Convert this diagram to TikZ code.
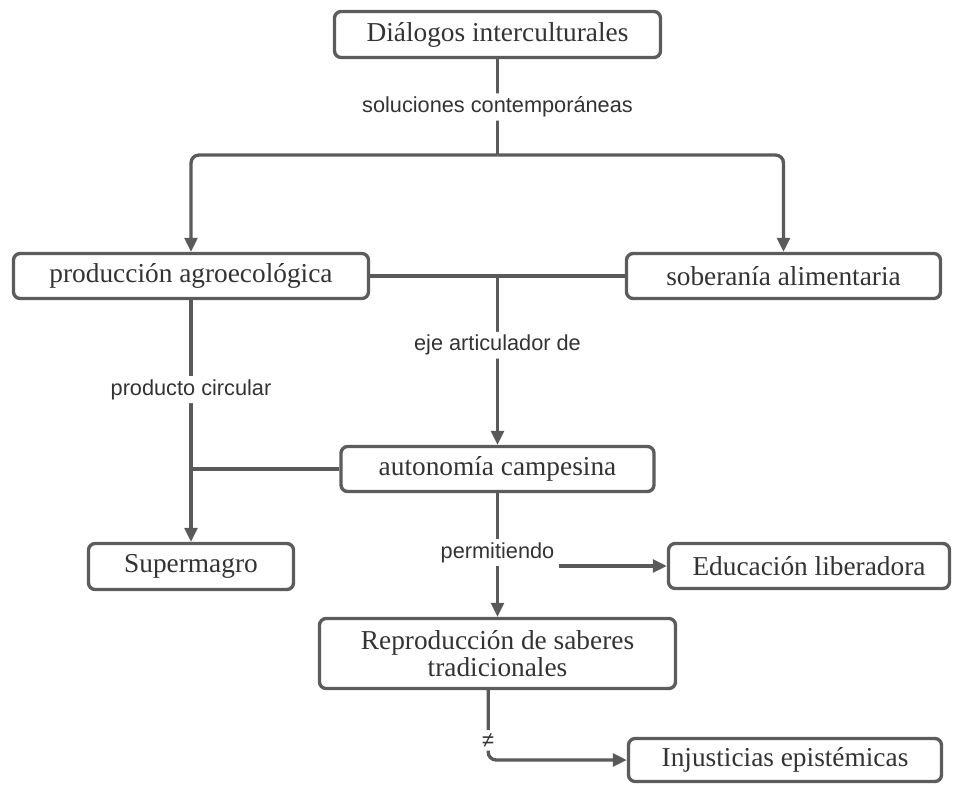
\documentclass[tikz,border=0pt]{standalone}
\usepackage{fontspec}
\setmainfont{Liberation Serif}
\newfontfamily\linkfont{Liberation Sans}
\usetikzlibrary{arrows.meta}
\definecolor{boxgray}{HTML}{5C5C5C}
\definecolor{linegray}{HTML}{5A5A5A}
\definecolor{textgray}{HTML}{333333}
\begin{document}
\begin{tikzpicture}[x=0.75pt, y=-0.75pt,
    concept/.style={rectangle, rounded corners=5pt, draw=boxgray, fill=white,
        minimum height=33.75pt, align=center, text=textgray, inner sep=2pt,
        font=\fontsize{20.5}{20}\selectfont, line width=2.5pt},
    linking/.style={fill=white, text=textgray, inner sep=2.5pt,
        font=\linkfont\fontsize{16.3}{18}\selectfont},
    post/.style={line width=2.5pt, draw=linegray, rounded corners=6pt},
    tip/.style={-{Triangle[length=10.5pt, width=9.5pt]}},
]
  \useasboundingbox (0,0) rectangle (953,786);
  % concept map: dialogos interculturales
  \node[concept, minimum width=244.5pt, minimum height=34.5pt] (c_dialogos) at (497.5, 34.5) {Diálogos interculturales};
  \node[concept, minimum width=266.25pt] (c_produccion) at (191, 276) {producción agroecológica};
  \node[concept, minimum width=235.5pt] (c_soberania) at (783.5, 276) {soberanía alimentaria};
  \node[concept, minimum width=234.75pt] (c_autonomia) at (497.5, 469) {autonomía campesina};
  \node[concept, minimum width=153.75pt, minimum height=34.5pt] (c_supermagro) at (191, 566.5) {Supermagro};
  \node[concept, minimum width=210.75pt] (c_educacion) at (809, 566) {Educación liberadora};
  \node[concept, minimum width=267pt, minimum height=52.5pt] (c_reproduccion) at (497.5, 653.5) {Reproducción de saberes\\tradicionales};
  \node[concept, minimum width=234.75pt, minimum height=32.25pt] (c_injusticias) at (785, 760) {Injusticias epistémicas};
  \coordinate (j_dialogos) at (497.5, 155);
  \coordinate (j_produccion) at (c_autonomia.north |- c_produccion.east);
  \draw[post] (c_dialogos) -- node[linking] {soluciones contemporáneas} (j_dialogos);
  \draw[post, tip] (j_dialogos) -| (c_produccion);
  \draw[post, tip] (j_dialogos) -| (c_soberania);
  \draw[post] (c_produccion) -- (c_soberania);
  \draw[post, tip] (j_produccion) -- node[linking, pos=0.41] {eje articulador de} (c_autonomia);
  \draw[post, tip] (c_produccion) -- node[linking, pos=0.37] {producto circular} (c_supermagro);
  \draw[post] (c_autonomia.west) -- (c_produccion.south |- c_autonomia.west);
  \draw[post, tip] (c_autonomia) -- node[linking, pos=0.48] (l_permitiendo) {permitiendo} (c_reproduccion);
  \draw[post, tip] (l_permitiendo.east |- c_educacion.west) -- (c_educacion);
  \draw[post, tip] ([xshift=-7pt]c_reproduccion.south) |- node[linking, pos=0.36] {≠} (c_injusticias);
\end{tikzpicture}
\end{document}
